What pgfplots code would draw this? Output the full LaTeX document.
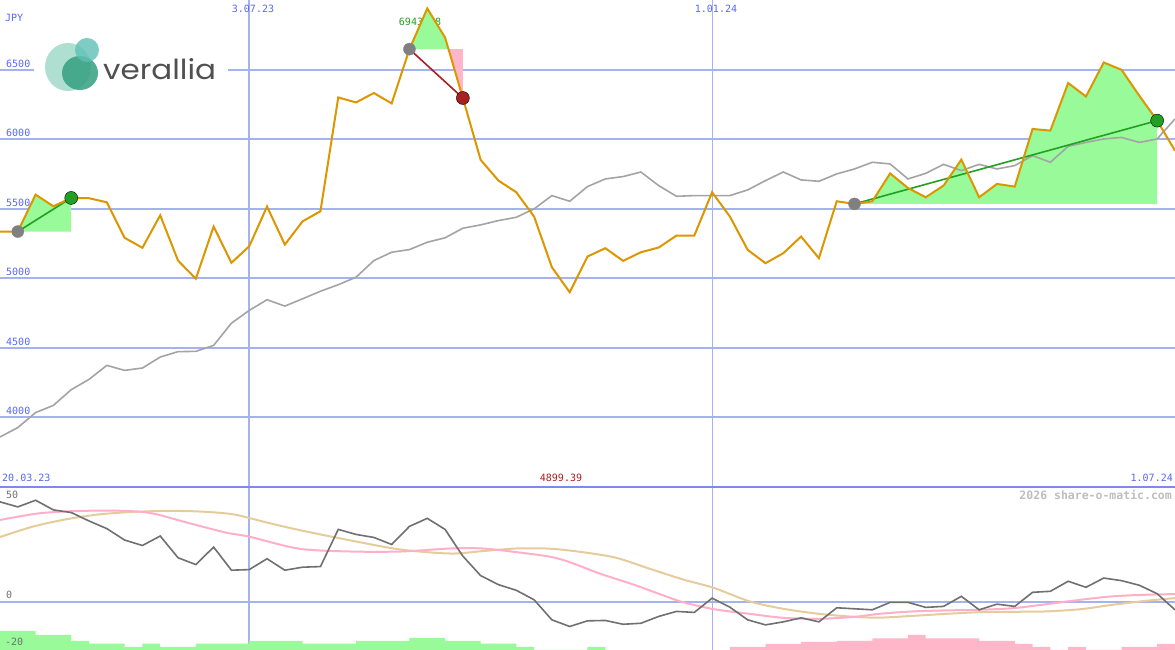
\documentclass[border=0pt]{standalone}
\usepackage{fontspec}
\usepackage{pgfplots}
\pgfplotsset{compat=1.18}
\newfontfamily\mono{DejaVu Sans Mono}
\newfontfamily\monob{DejaVu Sans Mono Bold}
\newfontfamily\logofont{Poppins}
\definecolor{gridblue}{HTML}{A4B2F0}
\definecolor{sepblue}{HTML}{7C8AF0}
\definecolor{labblue}{HTML}{5868F4}
\definecolor{price}{HTML}{DC9600}
\definecolor{bench}{HTML}{A4A4A4}
\definecolor{fillgreen}{HTML}{98FA98}
\definecolor{fillpink}{HTML}{FFB6C8}
\definecolor{lgreen}{HTML}{22A022}
\definecolor{lred}{HTML}{A82020}
\definecolor{circgray}{HTML}{808080}
\definecolor{osc}{HTML}{707070}
\definecolor{oscpink}{HTML}{FFB0C8}
\definecolor{osctan}{HTML}{E6CC9C}
\definecolor{wmark}{HTML}{BEBEBE}
\pgfplotstableread{
k v
0 5336
1 5336
2 5602
3 5518
4 5578
5 5576
6 5547
7 5291
8 5219
9 5453
10 5127
11 4996
12 5372
13 5111
14 5230
15 5516
16 5242
17 5410
18 5482
19 6302
20 6266
21 6334
22 6259
23 6650
24 6943
25 6734
26 6298
27 5852
28 5703
29 5619
30 5444
31 5079
32 4899
33 5156
34 5216
35 5125
36 5187
37 5221
38 5307
39 5307
40 5619
41 5444
42 5204
43 5108
44 5180
45 5300
46 5144
47 5554
48 5535
49 5554
50 5755
51 5650
52 5583
53 5667
54 5854
55 5583
56 5679
57 5660
58 6075
59 6063
60 6406
61 6309
62 6554
63 6501
64 6314
65 6135
66 5919
}\pricetab
\pgfplotstableread{
k v
0 3856
1 3924
2 4032
3 4084
4 4197
5 4271
6 4372
7 4336
8 4353
9 4432
10 4471
11 4473
12 4516
13 4676
14 4768
15 4845
16 4799
17 4852
18 4906
19 4953
20 5007
21 5127
22 5187
23 5206
24 5259
25 5291
26 5360
27 5384
28 5415
29 5439
30 5499
31 5595
32 5554
33 5660
34 5715
35 5732
36 5765
37 5667
38 5590
39 5595
40 5595
41 5595
42 5636
43 5703
44 5765
45 5708
46 5698
47 5751
48 5787
49 5835
50 5823
51 5715
52 5755
53 5820
54 5775
55 5820
56 5787
57 5811
58 5883
59 5835
60 5950
61 5978
62 6003
63 6014
64 5978
65 6003
66 6147
}\benchtab
\pgfplotstableread{
k u
0 49.7
1 47.2
2 50.5
3 45.7
4 44.4
5 40.2
6 36.4
7 30.7
8 28
9 32.7
10 21.9
11 18.5
12 27.2
13 15.7
14 16
15 21.4
16 15.7
17 17.2
18 17.5
19 36
20 33.5
21 32
22 28.5
23 37.5
24 41.5
25 36
26 22.7
27 13
28 8.5
29 5.7
30 1
31 -9
32 -12.3
33 -9.5
34 -9.3
35 -11.2
36 -10.7
37 -7.3
38 -4.8
39 -5.3
40 1.8
41 -2.7
42 -9
43 -11.5
44 -10
45 -8
46 -10
47 -3
48 -3.5
49 -4
50 -0.3
51 -0.3
52 -2.8
53 -2.3
54 2.7
55 -4
56 -1.2
57 -2.3
58 4.7
59 5.2
60 10.2
61 7.2
62 11.8
63 10.5
64 8.2
65 4
66 -4
}\osctab
\begin{document}
\begin{tikzpicture}[x=1pt,y=1pt]
\useasboundingbox (0pt,0pt) rectangle (1175pt,650pt);
\fill[white] (0pt,0pt) rectangle (1175pt,650pt);
% ---------------- lower panel
\begin{axis}[name=lower, at={(0pt,0pt)}, anchor=south west, scale only axis,
  width=1175pt, height=163pt, xmin=0, xmax=66, ymin=-24, ymax=57.1,
  axis line style={draw=none}, tick style={draw=none},
  xtick={14}, ytick={0}, xticklabels={}, yticklabels={},
  grid=major, major grid style={draw=gridblue, line width=2pt},
  extra x ticks={40}, extra x tick labels={},
  extra x tick style={major grid style={draw=gridblue, line width=1pt}},
  clip=true]
\addplot[fill=fillgreen, draw=none, const plot mark left] coordinates {(0,-24) (0,-14.5) (2,-16.5) (4,-19.5) (5,-20.85) (7,-22.5) (8,-20.85) (9,-22.5) (11,-20.85) (14,-19.5) (17,-20.85) (20,-19.5) (23,-18) (25,-19.5) (27,-20.85) (29,-22.5) (30,-24) (33,-22.5) (34,-24)} --cycle;
\addplot[fill=fillpink, draw=none, const plot mark left] coordinates {(41,-24) (41,-22.5) (42,-22.5) (43,-21) (45,-20) (47,-19.5) (49,-18.2) (51,-16.5) (52,-18.2) (55,-19.5) (57,-21) (58,-22.5) (59,-24) (60,-22.5) (61,-24) (63,-22.5) (65,-21) (66,-21) (66,-24)} --cycle;
\addplot[osctan, line width=2pt, smooth, mark=none] coordinates {(0,32.2) (1.85,37.4) (3.7,41) (5.6,43.5) (7.5,44.7) (9.4,45.2) (11.2,44.9) (13.1,43.5) (15,39.4) (16.8,35.7) (19.7,30.5) (22.5,26) (25.3,24) (27.1,25.2) (29,26.5) (30.9,26.4) (32.7,24.7) (34.6,21.9) (36.5,16.4) (38.4,11) (40.1,6.9) (42.1,0.2) (44,-3.5) (46,-6) (48,-7.5) (49.4,-7.9) (51.3,-7) (53.2,-6) (55,-5.2) (56.9,-5) (58.8,-4.8) (60.7,-3.7) (62.5,-1.5) (64.4,0.5) (66,1.8)};
\addplot[oscpink, line width=2pt, smooth, mark=none] coordinates {(0,40.7) (2.2,44) (4.5,45.2) (7.1,45.2) (8.6,43.9) (10.5,39.4) (12.7,34.4) (14,32.4) (16.8,26.4) (19.7,25) (22.5,25) (25.3,26.5) (27.1,26.5) (29,24.7) (30.9,22.4) (32,19.7) (33.7,14) (35.6,8.5) (37.4,2.7) (38.4,-0.3) (40.1,-3.7) (42.1,-6) (44,-8) (46,-8.5) (48,-7.5) (49.4,-6) (51.3,-4.8) (53.2,-4.3) (55,-4) (56.9,-3.2) (58.8,-1.2) (60.7,1) (62.5,2.7) (64.4,3.5) (66,3.8)};
\addplot[osc, line width=1.6pt, mark=none] table[x=k, y=u] {\osctab};
\end{axis}
% ---------------- upper panel
\begin{axis}[at={(lower.north west)}, anchor=south west, scale only axis,
  width=1175pt, height=487pt, xmin=0, xmax=66, ymin=3496, ymax=7004,
  axis line style={draw=none}, tick style={draw=none},
  xtick={14}, ytick={4000,4500,...,6500}, xticklabels={}, yticklabels={},
  grid=major, major grid style={draw=gridblue, line width=2pt},
  extra x ticks={40}, extra x tick labels={},
  extra x tick style={major grid style={draw=gridblue, line width=1pt}},
  clip=true]
\node[anchor=base west, text=lgreen, font=\mono\fontsize{10}{12}\selectfont, inner sep=0pt] at (axis cs:22.4,6822) {6943.78};
% filled gain/loss areas
\addplot[fill=fillgreen, draw=none] coordinates {(1,5336) (2,5602) (3,5518) (4,5578) (4,5336)} --cycle;
\addplot[fill=fillgreen, draw=none] coordinates {(23,6650) (24,6943) (25,6734) (25.19,6650)} --cycle;
\addplot[fill=fillpink, draw=none] coordinates {(25.19,6650) (26,6298) (26,6650)} --cycle;
\addplot[fill=fillgreen, draw=none] coordinates {(48,5535) (49,5554) (50,5755) (51,5650) (52,5583) (53,5667) (54,5854) (55,5583) (56,5679) (57,5660) (58,6075) (59,6063) (60,6406) (61,6309) (62,6554) (63,6501) (64,6314) (65,6135) (65,5535)} --cycle;
% benchmark
\addplot[bench, line width=1.6pt, mark=none] table[x=k, y=v] {\benchtab};
% connecting lines
\addplot[lgreen, line width=1.6pt, mark=none] coordinates {(1,5336) (4,5578)};
\addplot[lred, line width=1.6pt, mark=none] coordinates {(23,6650) (26,6298)};
\addplot[lgreen, line width=1.6pt, mark=none] coordinates {(48,5535) (65,6135)};
% circles
\addplot[only marks, mark=*, mark size=6pt, circgray, mark options={draw=none, fill=circgray}] coordinates {(1,5336) (23,6650) (48,5535)};
\addplot[only marks, mark=*, mark size=6.5pt, mark options={draw=none, fill=lgreen}] coordinates {(4,5578) (65,6135)};
\addplot[only marks, mark=*, mark size=6.5pt, mark options={draw=none, fill=lred}] coordinates {(26,6298)};
% price
\addplot[price, line width=2pt, mark=none] table[x=k, y=v] {\pricetab};
\end{axis}
% separator
\draw[sepblue, line width=2pt] (0pt,163pt) -- (1175pt,163pt);
% logo
\fill[white] (34pt,550pt) rectangle (228pt,615pt);
\fill[fill={rgb,255:red,160;green,218;blue,200}, opacity=0.85] (68pt,583pt) ellipse [x radius=23pt, y radius=24pt];
\fill[fill={rgb,255:red,52;green,160;blue,128}, opacity=0.85] (80pt,577pt) ellipse [x radius=18pt, y radius=17pt];
\fill[fill={rgb,255:red,96;green,192;blue,182}, opacity=0.8] (87pt,600pt) ellipse [x radius=12pt, y radius=12pt];
\node[anchor=base west, inner sep=0pt, text={rgb,255:red,80;green,80;blue,80}] at (103pt,570pt) {\resizebox{113pt}{21pt}{\logofont verallia}};
% labels
\begin{scope}[every node/.style={inner sep=0pt, font=\mono\fontsize{10}{12}\selectfont, text=labblue}]
\node[anchor=base west] at (5pt,628pt) {JPY};
\node[anchor=base west] at (6pt,582pt) {6500};
\node[anchor=base west] at (6pt,513pt) {6000};
\node[anchor=base west] at (6pt,443pt) {5500};
\node[anchor=base west] at (6pt,374pt) {5000};
\node[anchor=base west] at (6pt,304pt) {4500};
\node[anchor=base west] at (6pt,235pt) {4000};
\node[anchor=base] at (253pt,637.7pt) {3.07.23};
\node[anchor=base] at (716pt,637.3pt) {1.01.24};
\node[anchor=base west] at (2pt,168pt) {20.03.23};
\node[anchor=base east] at (1173pt,168pt) {1.07.24};
\node[anchor=base, text=lred] at (561pt,168pt) {4899.39};
\node[anchor=base west, text=osc] at (6pt,151pt) {50};
\node[anchor=base west, text=osc] at (6pt,51pt) {0};
\node[anchor=base west, text=osc] at (5pt,4pt) {-20};
\node[anchor=base east, text=wmark, font=\monob\fontsize{11.5}{13}\selectfont] at (1172pt,150.5pt) {2026 share-o-matic.com};
\end{scope}
\end{tikzpicture}
\end{document}
